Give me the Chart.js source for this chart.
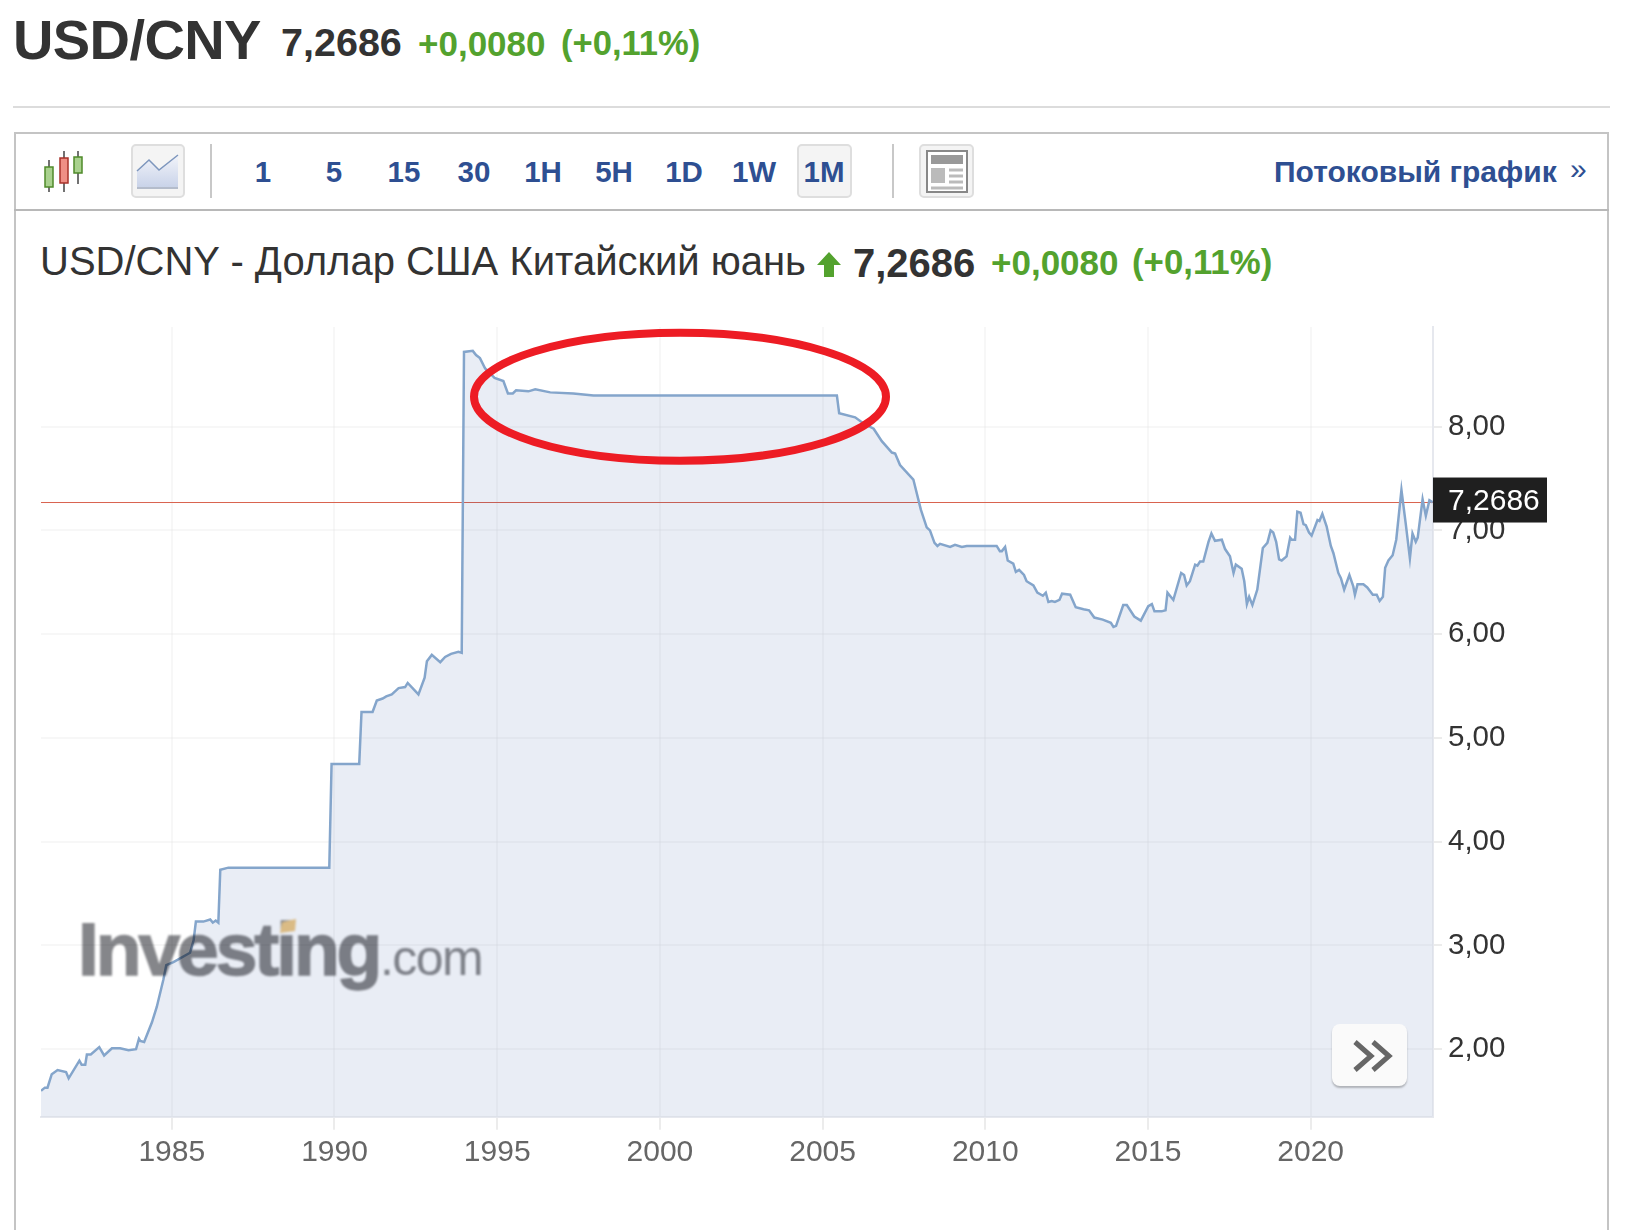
<!DOCTYPE html>
<html lang="ru">
<head>
<meta charset="utf-8">
<title>USD/CNY</title>
<script src="https://cdn.jsdelivr.net/npm/chart.js@4"></script>
<style>
    html, body { margin: 0; padding: 0; background: #fff; }
    body { position: relative; width: 1626px; height: 1230px; overflow: hidden; font-family: "Liberation Sans", Arial, sans-serif; }
    .abs { position: absolute; white-space: nowrap; line-height: 1; }
    .green { color: #53a22e; font-weight: bold; }
    .dark { color: #333; font-weight: bold; }
    .tf { color: #2e4f92; font-weight: bold; font-size: 29.5px; top: 157px; transform: translateX(-50%); }
    .btn { position: absolute; box-sizing: border-box; top: 144px; height: 54px; background: #f4f4f4; border: 2px solid #dedede; border-radius: 5px; }
    .sep { position: absolute; top: 144px; width: 2px; height: 54px; background: #c8c8c8; }
    #mainChart { position: absolute; left: 0; top: 0; filter: blur(0.35px); }
    #mark { position: absolute; left: 0; top: 0; mix-blend-mode: multiply; filter: blur(1px); }
</style>
</head>
<body>
<!-- page header -->
<div class="abs dark" style="left:13px;top:12px;font-size:56px;letter-spacing:-0.6px">USD/CNY</div>
<div class="abs dark" style="left:281px;top:23px;font-size:39.5px">7,2686</div>
<div class="abs green" style="left:418px;top:26px;font-size:35px">+0,0080</div>
<div class="abs green" style="left:561px;top:26px;font-size:34.6px">(+0,11%)</div>
<div class="abs" style="left:13px;top:106px;width:1597px;height:2px;background:#dcdcdc;box-shadow:0 9px 10px -3px rgba(0,0,0,.09)"></div>

<!-- widget frame and toolbar -->
<div class="abs" style="box-sizing:border-box;left:14px;top:132px;width:1595px;height:1120px;border:2px solid #c4c4c4;background:#fff"></div>
<div class="abs" style="left:14px;top:209px;width:1595px;height:2px;background:#b8b8b8"></div>

<svg class="abs" style="left:40px;top:148px" width="48" height="46">
    <g stroke="#444" stroke-width="1.5" fill="none">
        <path d="M9 12V44M24 3V44M38 3V36"/>
    </g>
    <rect x="5" y="19" width="8" height="20" fill="#a9d18e" stroke="#4f8a2a" stroke-width="1.5"/>
    <rect x="20" y="10" width="8" height="25" fill="#ef8f85" stroke="#a8322a" stroke-width="1.5"/>
    <rect x="34" y="9" width="8" height="16" fill="#a9d18e" stroke="#4f8a2a" stroke-width="1.5"/>
</svg>
<div class="btn" style="left:131px;width:54px"></div>
<svg class="abs" style="left:131px;top:144px" width="54" height="54">
    <defs><linearGradient id="areaFill" x1="0" y1="0" x2="0" y2="1"><stop offset="0" stop-color="#f2f4fa"/><stop offset="1" stop-color="#c8d2e8"/></linearGradient></defs>
    <path d="M6 27L18 16L28 26L47 11V44H6Z" fill="url(#areaFill)"/>
    <path d="M6 27L18 16L28 26L47 11" fill="none" stroke="#7d96bd" stroke-width="1.5"/>
    <rect x="6" y="43" width="41" height="2" fill="#b4bccb"/>
</svg>
<div class="sep" style="left:210px"></div>

<div class="abs tf" style="left:263px">1</div>
<div class="abs tf" style="left:334px">5</div>
<div class="abs tf" style="left:404px">15</div>
<div class="abs tf" style="left:474px">30</div>
<div class="abs tf" style="left:543px">1H</div>
<div class="abs tf" style="left:614px">5H</div>
<div class="abs tf" style="left:684px">1D</div>
<div class="abs tf" style="left:754px">1W</div>
<div class="btn" style="left:797px;width:55px"></div>
<div class="abs tf" style="left:824px">1M</div>
<div class="sep" style="left:892px"></div>
<div class="btn" style="left:919px;width:55px"></div>
<svg class="abs" style="left:919px;top:144px" width="55" height="54">
    <rect x="8" y="7" width="40" height="41" fill="#fff" stroke="#888" stroke-width="2"/>
    <rect x="12" y="11" width="32" height="9" fill="#999"/>
    <rect x="12" y="24" width="14" height="15" fill="#bbb"/>
    <path d="M30 26H44M30 32H44M30 38H44M12 44H44" stroke="#bbb" stroke-width="3"/>
</svg>
<div class="abs" style="left:1274px;top:157px;font-size:30px;font-weight:bold;color:#2e4f92">Потоковый график</div>
<div class="abs" style="left:1570px;top:154px;font-size:30px;color:#2e4f92">»</div>

<!-- chart heading -->
<div class="abs" style="left:40px;top:241px;font-size:40px;color:#333">USD/CNY - Доллар США Китайский юань</div>
<svg class="abs" style="left:817px;top:252px" width="24" height="25"><path d="M12 0L24 13H17V25H7V13H0Z" fill="#53a22e"/></svg>
<div class="abs dark" style="left:853px;top:243px;font-size:40px">7,2686</div>
<div class="abs green" style="left:991px;top:245px;font-size:35px">+0,0080</div>
<div class="abs green" style="left:1132px;top:245px;font-size:34.8px">(+0,11%)</div>

<canvas id="mainChart" width="1626" height="1230"></canvas>

<!-- watermark -->
<svg id="mark" width="1626" height="1230">
    <text x="78" y="975" font-family="Liberation Sans" font-weight="bold" font-size="75" letter-spacing="-3.1" fill="#85868a" stroke="#85868a" stroke-width="1.5">Investing</text>
    <text x="380" y="975" font-family="Liberation Sans" font-size="50" letter-spacing="-1.6" fill="#8a8b8f">.com</text>
    <path d="M282 922L296 919L295 931L280 933Z" fill="#efc98a"/>
</svg>

<!-- red hand drawn ellipse -->
<svg class="abs" style="left:0;top:0" width="1626" height="1230">
    <ellipse cx="680" cy="396.7" rx="206" ry="64" fill="none" stroke="#ed1c24" stroke-width="8"/>
</svg>

<!-- scroll button -->
<div class="abs" style="left:1332px;top:1024px;width:75px;height:62px;background:#fafafa;border-radius:8px;box-shadow:0 2px 2px rgba(0,0,0,.25)"></div>
<svg class="abs" style="left:1332px;top:1024px" width="75" height="62">
    <path d="M23 18L39 32L23 46M41 18L57 32L41 46" fill="none" stroke="#666" stroke-width="5"/>
</svg>

<script>
// Monthly close
const years = [
    1980.98, 1981.10, 1981.18, 1981.31, 1981.49, 1981.75, 1981.83, 1982.16, 1982.23, 1982.34,
    1982.39, 1982.51, 1982.77, 1982.92, 1983.16, 1983.41, 1983.67, 1983.90, 1983.99, 1984.03,
    1984.15, 1984.39, 1984.54, 1984.74, 1984.83, 1985.05, 1985.56, 1985.67, 1985.74, 1985.97,
    1986.18, 1986.26, 1986.35, 1986.43, 1986.49, 1986.74, 1989.84, 1989.91, 1990.76, 1990.83,
    1991.17, 1991.30, 1991.48, 1991.59, 1991.76, 1991.97, 1992.17, 1992.25, 1992.58, 1992.77,
    1992.84, 1992.99, 1993.25, 1993.40, 1993.58, 1993.81, 1993.91, 1993.98, 1994.25, 1994.35,
    1994.47, 1994.63, 1994.92, 1995.19, 1995.33, 1995.48, 1995.58, 1995.96, 1996.17, 1996.63,
    1997.34, 1997.96, 1998.98, 1999.99, 2005.44, 2005.51, 2006.00, 2006.26, 2006.57, 2006.82,
    2007.13, 2007.23, 2007.38, 2007.79, 2008.02, 2008.20, 2008.30, 2008.44, 2008.53, 2008.61,
    2008.92, 2009.07, 2009.28, 2009.43, 2010.35, 2010.45, 2010.51, 2010.61, 2010.69, 2010.86,
    2010.94, 2011.04, 2011.19, 2011.27, 2011.48, 2011.60, 2011.77, 2011.86, 2011.94, 2012.04,
    2012.14, 2012.28, 2012.36, 2012.61, 2012.78, 2013.02, 2013.19, 2013.35, 2013.61, 2013.86,
    2013.94, 2014.02, 2014.24, 2014.35, 2014.58, 2014.78, 2015.01, 2015.12, 2015.20, 2015.42,
    2015.54, 2015.60, 2015.78, 2016.02, 2016.11, 2016.19, 2016.29, 2016.45, 2016.52, 2016.60,
    2016.70, 2016.86, 2016.95, 2017.06, 2017.27, 2017.37, 2017.52, 2017.63, 2017.70, 2017.88,
    2017.96, 2018.04, 2018.11, 2018.21, 2018.36, 2018.53, 2018.67, 2018.77, 2018.85, 2018.94,
    2019.03, 2019.11, 2019.26, 2019.37, 2019.42, 2019.52, 2019.59, 2019.69, 2019.78, 2019.85,
    2019.95, 2020.03, 2020.21, 2020.27, 2020.36, 2020.49, 2020.62, 2020.70, 2020.85, 2020.93,
    2021.03, 2021.19, 2021.31, 2021.36, 2021.44, 2021.62, 2021.74, 2021.91, 2022.03, 2022.12,
    2022.22, 2022.29, 2022.39, 2022.52, 2022.63, 2022.79, 2022.92, 2023.05, 2023.13, 2023.23,
    2023.29, 2023.44, 2023.54, 2023.65, 2023.75
];
const rates = [
    1.60, 1.63, 1.63, 1.76, 1.80, 1.78, 1.72, 1.89, 1.85, 1.85,
    1.95, 1.95, 2.02, 1.94, 2.01, 2.01, 1.99, 2.00, 2.10, 2.08,
    2.07, 2.26, 2.41, 2.67, 2.81, 2.84, 2.93, 3.05, 3.23, 3.23,
    3.25, 3.22, 3.24, 3.22, 3.73, 3.75, 3.75, 4.75, 4.75, 5.25,
    5.25, 5.36, 5.38, 5.40, 5.42, 5.48, 5.49, 5.53, 5.42, 5.58,
    5.74, 5.80, 5.73, 5.78, 5.81, 5.83, 5.82, 8.72, 8.73, 8.69,
    8.66, 8.56, 8.47, 8.44, 8.32, 8.32, 8.35, 8.34, 8.36, 8.33,
    8.32, 8.30, 8.30, 8.30, 8.30, 8.13, 8.09, 8.03, 7.98, 7.86,
    7.75, 7.74, 7.63, 7.49, 7.20, 7.03, 7.00, 6.88, 6.85, 6.87,
    6.84, 6.86, 6.84, 6.85, 6.85, 6.80, 6.80, 6.84, 6.71, 6.68,
    6.60, 6.62, 6.57, 6.51, 6.47, 6.40, 6.37, 6.40, 6.31, 6.32,
    6.31, 6.33, 6.39, 6.38, 6.26, 6.24, 6.23, 6.16, 6.14, 6.11,
    6.07, 6.08, 6.28, 6.28, 6.17, 6.13, 6.27, 6.29, 6.22, 6.22,
    6.23, 6.40, 6.33, 6.59, 6.57, 6.47, 6.51, 6.67, 6.66, 6.70,
    6.70, 6.89, 6.97, 6.90, 6.91, 6.82, 6.75, 6.59, 6.67, 6.63,
    6.51, 6.29, 6.36, 6.28, 6.43, 6.83, 6.88, 7.00, 6.98, 6.89,
    6.72, 6.71, 6.75, 6.93, 6.91, 6.91, 7.18, 7.17, 7.06, 7.05,
    6.98, 6.95, 7.10, 7.09, 7.16, 7.04, 6.85, 6.78, 6.59, 6.54,
    6.43, 6.57, 6.46, 6.38, 6.48, 6.48, 6.45, 6.38, 6.38, 6.32,
    6.36, 6.64, 6.71, 6.76, 6.91, 7.39, 7.07, 6.73, 6.97, 6.89,
    6.93, 7.30, 7.14, 7.29, 7.27
];
const xTicks = [1985, 1990, 1995, 2000, 2005, 2010, 2015, 2020];
const yTicks = [2, 3, 4, 5, 6, 7, 8];
const lastPrice = 7.2686;
const xMin = 1980.98;
const xMax = 2023.76;

// Black price tag on the right axis
const priceTag = {
    id: 'priceTag',
    afterDraw(chart) {
        const ctx = chart.ctx;
        const y = chart.scales.y.getPixelForValue(lastPrice);
        const x = chart.chartArea.right;
        ctx.save();
        ctx.fillStyle = '#1f1f1f';
        ctx.fillRect(x, y - 25, 114, 45);
        ctx.fillStyle = '#fff';
        ctx.font = '30px "Liberation Sans"';
        ctx.textBaseline = 'middle';
        ctx.fillText(lastPrice.toFixed(4).replace('.', ','), x + 15, y - 1);
        ctx.restore();
    }
};

const ctx = document.getElementById('mainChart').getContext('2d');
new Chart(ctx, {
    type: 'line',
    data: {
        datasets: [
            {
                data: years.map((yr, i) => ({ x: yr, y: rates[i] })),
                borderColor: '#84a5cb',
                borderWidth: 2.5,
                backgroundColor: 'rgba(38, 78, 155, 0.1)',
                fill: 'start',
                pointRadius: 0,
                tension: 0
            },
            {
                data: [{ x: xMin, y: lastPrice }, { x: xMax, y: lastPrice }],
                borderColor: '#d9634f',
                borderWidth: 1,
                fill: false,
                pointRadius: 0
            }
        ]
    },
    options: {
        responsive: false,
        animation: false,
        layout: { padding: { left: 41, top: 327, right: 0, bottom: 0 } },
        plugins: { legend: { display: false }, tooltip: { enabled: false } },
        scales: {
            x: {
                type: 'linear',
                min: xMin,
                max: xMax,
                afterBuildTicks: axis => { axis.ticks = xTicks.map(v => ({ value: v })); },
                afterFit: axis => { axis.height = 113.3; },
                grid: { color: 'rgba(225, 225, 225, 0.25)', lineWidth: 2, tickLength: 13, tickColor: '#ececec' },
                border: { color: '#e6e8ee', width: 2 },
                ticks: {
                    autoSkip: false,
                    maxRotation: 0,
                    padding: 5,
                    color: '#666',
                    font: { family: 'Liberation Sans', size: 30 },
                    callback: v => String(v)
                }
            },
            y: {
                position: 'right',
                min: 1.35,
                max: 8.96,
                afterBuildTicks: axis => { axis.ticks = yTicks.map(v => ({ value: v })); },
                afterFit: axis => { axis.width = 193; },
                grid: { color: 'rgba(225, 225, 225, 0.25)', lineWidth: 2, tickLength: 9, tickColor: '#ececec' },
                border: { color: '#e6e8ee', width: 2 },
                ticks: {
                    padding: 6,
                    color: '#333',
                    font: { family: 'Liberation Sans', size: 29.5 },
                    callback: v => v.toFixed(2).replace('.', ',')
                }
            }
        }
    },
    plugins: [priceTag]
});
</script>
</body>
</html>
